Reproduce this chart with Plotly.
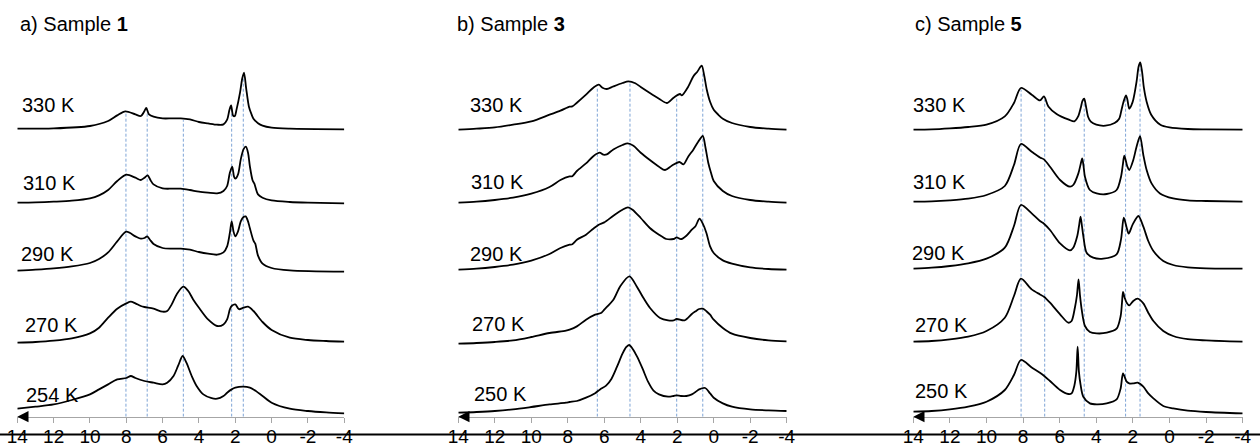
import numpy as np
import plotly.graph_objects as go

# ---------------- data ----------------
ticks = [14, 12, 10, 8, 6, 4, 2, 0, -2, -4]
tick_labels = ["14", "12", "10", "8", "6", "4", "2", "0", "-2", "-4"]

panel_titles = ["a) Sample <b>1</b>", "b) Sample <b>3</b>", "c) Sample <b>5</b>"]
temps_a = ["330 K", "310 K", "290 K", "270 K", "254 K"]
temps_b = ["330 K", "310 K", "290 K", "270 K", "250 K"]
temps_c = ["330 K", "310 K", "290 K", "270 K", "250 K"]

# vertical stacking offsets of each spectrum (a.u.)
offsets_a = [288, 214, 146, 74, 8]
offsets_b = [287, 214, 147, 73, 4]
offsets_c = [287, 215, 148, 75, 5]

# (ppm, intensity) pairs, sample 1
a330 = [(14,0),(12,0.3),(10,2.7),(9,7.7),(8.5,13.3),(8.05,17.3),(7.5,14.3),(7.2,12.7),(7.0,17.7),(6.9,20.7),(6.75,14.3),(6.5,12),(6,10.3),(5.5,10.3),(5,10.3),(4.5,9.3),(4,6.7),(3.5,5.3),(3,4),(2.65,4.3),(2.45,9),(2.32,19),(2.23,23.3),(2.12,13),(2.03,12.6),(1.93,19.3),(1.74,36),(1.62,50),(1.52,56),(1.4,40),(1.25,22),(1.1,14),(1.0,10),(0.75,5.5),(0.5,3),(0,1),(-1,0),(-4,-0.7)]
a310 = [(14,0),(13,0.3),(12,1),(11,2),(10,4.3),(9.5,7.3),(9,12.7),(8.5,21.7),(8,28),(7.5,25),(7.2,22.7),(7.0,25),(6.83,27.3),(6.65,22),(6.5,18.3),(6,14.3),(5.5,14),(5,14),(4.5,12.7),(4,11),(3.5,10),(3,9.3),(2.65,11.7),(2.45,16.7),(2.3,30),(2.17,36),(2.07,26),(2.0,24),(1.85,28.3),(1.7,43.3),(1.55,53.3),(1.42,56),(1.3,50),(1.2,36.7),(1.05,22.5),(0.95,19),(0.75,8.3),(0.5,5),(0,2.3),(-1,0.7),(-2,0),(-4,-0.7)]
a290 = [(14,0),(13,1),(12,2.3),(11,4.3),(10,7.7),(9.5,11.7),(9,18.3),(8.5,29.3),(8,39),(7.5,34.3),(7.2,32),(7.0,32.7),(6.85,34.3),(6.7,31),(6.5,26.7),(6,22.7),(5.5,22),(5,22),(4.5,21),(4,18.7),(3.5,17),(3,16),(2.65,18.3),(2.45,24.3),(2.3,37.7),(2.2,49.3),(2.1,39.3),(2.0,34.3),(1.85,39.3),(1.7,49.3),(1.55,53.7),(1.43,54.3),(1.3,49.3),(1.2,42.7),(1.0,30),(0.9,27),(0.75,15),(0.5,7),(0,2.7),(-1,0.3),(-4,-1)]
a270 = [(14,0),(13,0.7),(12,2),(11,4.3),(10,9.3),(9.5,15),(9,25),(8.5,34),(8,39.3),(7.75,41),(7.5,39.3),(7.2,36.7),(7.0,35.7),(6.5,34),(6,31),(5.75,31.7),(5.5,38.3),(5.23,48.3),(4.86,56),(4.59,51.7),(4.32,43.3),(4.0,35),(3.5,23.3),(3.0,16.7),(2.65,18.3),(2.45,23.3),(2.3,33.3),(2.2,36.7),(2.0,38.3),(1.8,33.5),(1.55,35),(1.3,36),(1.0,31.7),(0.5,20.7),(0,12.7),(-1,5),(-2,2.7),(-3,1.7),(-4,1)]
a254 = [(14,0),(13,2),(12,4.3),(11,8.7),(10,14.3),(9.5,19.3),(9,24.3),(8.5,29.3),(8,30.7),(7.75,32.7),(7.5,30.7),(7.0,27.7),(6.5,26),(6,24.3),(5.75,26),(5.4,32.7),(5.14,43.3),(4.9,52.7),(4.69,46),(4.4,32.7),(4.13,22.7),(3.76,14.3),(3.3,10.5),(3,10),(2.65,12.7),(2.45,16),(2.2,19.3),(2,21),(1.55,22),(1.2,21),(1.0,19.3),(0.5,12.7),(0,6),(-1,0),(-2,-2.3),(-3,-3.7),(-4,-4.7)]

# sample 3
b330 = [(14,0),(13,1),(12,2.3),(11,5),(10,8.3),(9,15),(8.4,19),(7.9,23),(7.75,23.3),(7.5,27),(7,35),(6.6,42),(6.3,45),(6.1,42),(5.86,40.7),(5.5,43.3),(5,46.7),(4.68,48.3),(4.3,46.5),(4,42.7),(3.5,36.7),(3,31),(2.57,26.7),(2.2,32),(1.85,35.7),(1.75,34.3),(1.39,43.3),(1.12,53.3),(0.9,58),(0.66,64),(0.52,54),(0.38,40),(0.2,28),(0,20),(-0.25,15),(-0.5,11),(-1,6.7),(-2,2.7),(-3,1),(-4,0)]
b310 = [(14,0),(13,1),(12,2.7),(11,5),(10,9),(9,15.7),(8.4,22.7),(7.9,26.3),(7.75,26.5),(7.5,31.7),(7,39.3),(6.6,46.5),(6.25,50),(6.05,48),(5.86,48.3),(5.5,53.3),(5,57.7),(4.72,59.3),(4.4,57),(4,50),(3.5,42.7),(3,36),(2.67,32.7),(2.3,37),(1.88,40.7),(1.66,38.3),(1.4,46),(1.11,53.3),(0.85,61),(0.6,66.7),(0.45,55),(0.3,40),(0.15,30),(0,21.7),(-0.5,11.7),(-1,6.7),(-2,2.7),(-3,1),(-4,0)]
b290 = [(14,0),(13,1),(12,2.7),(11,5),(10,9),(9,15.7),(8.4,21.7),(7.9,25),(7.75,25.5),(7.5,30),(7,35),(6.6,41),(6.3,45),(6.0,47.3),(5.5,54),(5,60),(4.7,62.3),(4.45,60),(4,51.7),(3.5,41.7),(3,35),(2.6,30.7),(2.2,30.7),(2.03,32.3),(1.8,30.5),(1.5,34),(1.2,40),(1.0,43.5),(0.78,51),(0.6,46),(0.4,36.7),(0.2,23.3),(0,16.7),(-0.5,9.3),(-1,6),(-2,2.3),(-3,0.7),(-4,0)]
b270 = [(14,0),(13,0.7),(12,1.7),(11,3.3),(10,6.7),(9,10.7),(8.1,13),(7.9,14),(7.5,17.3),(7,24),(6.5,29),(6.15,31),(6.0,34),(5.5,44),(5.13,57.3),(4.62,67.3),(4.22,57.3),(3.85,45.7),(3.49,35.7),(2.94,25.7),(2.5,23.3),(2.2,23.3),(2.03,24.7),(1.6,23.3),(1.2,29.7),(1.0,32.3),(0.8,34.7),(0.6,35),(0.4,32.5),(0.2,29),(0,24),(-0.5,15.7),(-1,10),(-2,5.7),(-3,3.3),(-4,2.3)]
b250 = [(14,0),(13,0.7),(12,1.7),(11,3.3),(10,5.7),(9,8.3),(8.1,10),(7.9,10.7),(7.5,11.7),(7,15),(6.5,19.5),(6.23,23.3),(5.9,27),(5.6,34),(5.3,46),(5.0,59),(4.8,65.5),(4.64,67.7),(4.45,64),(4.2,56),(3.9,44),(3.6,31),(3.3,22),(3,18.3),(2.5,16),(2.2,16.7),(2.03,17.3),(1.8,16.7),(1.5,16.7),(1.2,18.3),(1.0,20.7),(0.8,23.3),(0.47,24.7),(0.2,19.3),(0,15),(-0.5,9.3),(-1,6),(-2,3.3),(-3,2.3),(-4,1.7)]

# sample 5
c330 = [(14,0),(13,0.3),(12,1.3),(11,2.7),(10,5),(9,13.3),(8.5,26.7),(8.12,41.7),(7.53,35),(7.08,29.3),(6.86,33.3),(6.62,23.3),(6.17,15.7),(5.5,10),(5.2,8.3),(5.0,13),(4.85,22),(4.75,29),(4.66,31),(4.57,24),(4.45,13),(4.3,8),(4,5),(3.5,4),(3,6.7),(2.75,11),(2.62,20),(2.53,26.7),(2.38,34.3),(2.3,30),(2.2,21),(2.07,25),(1.98,30),(1.8,48),(1.69,63),(1.6,67.3),(1.5,58),(1.4,42),(1.25,28),(1.0,15),(0.5,5),(0,2.3),(-1,0.7),(-2,0.3),(-4,0)]
c310 = [(14,0),(13,0.3),(12,1.3),(11,3),(10,6.7),(9,15.7),(8.5,36.7),(8.12,57.7),(7.53,50),(7.08,44.3),(6.86,42.3),(6.53,35),(5.98,21.7),(5.44,15),(5.26,16.7),(4.98,28.3),(4.85,38),(4.77,43.3),(4.7,36),(4.62,25),(4.35,11.7),(3.98,8.3),(3.43,7.7),(2.89,11.7),(2.65,25),(2.55,37),(2.47,46),(2.3,35),(2.2,31.7),(1.98,41.7),(1.8,55),(1.61,65.5),(1.43,46.7),(1.25,31.7),(0.98,18.3),(0.52,8.3),(-0.2,3.3),(-1,1.3),(-2,0.7),(-4,0)]
c290 = [(14,0),(13,1),(12,2.7),(11,5.3),(10,10),(9,21),(8.5,42.7),(8.12,63.7),(7.53,55.3),(7.08,47.7),(6.86,45),(6.53,38.7),(5.98,25.3),(5.44,18.3),(5.26,21),(5.04,32.7),(4.95,42),(4.86,52),(4.78,42),(4.71,32.7),(4.53,16),(4.17,11),(3.62,10),(2.89,14.3),(2.65,29.3),(2.5,51),(2.34,41),(2.23,35),(2.01,44.3),(1.7,52.7),(1.43,42),(1.16,27.7),(0.88,17.7),(0.34,7.7),(-0.2,3.7),(-1,1.3),(-2,0.3),(-4,0)]
c270 = [(14,0),(13,0.7),(12,2.3),(11,5),(10,10.7),(9,24),(8.5,45.7),(8.12,63),(7.53,52.3),(7.08,47.3),(6.86,45),(6.53,39),(5.98,27.3),(5.53,19),(5.35,20.7),(5.17,34),(5.06,46),(4.97,62.3),(4.89,46),(4.8,32.3),(4.62,15.7),(4.35,9.7),(3.98,8.3),(3.43,9),(2.89,13),(2.67,25.7),(2.6,38),(2.54,49.7),(2.45,44),(2.34,39),(2.2,36.3),(1.98,40.7),(1.74,43),(1.43,38.3),(1.16,29),(0.88,20.7),(0.34,10.7),(-0.2,5.7),(-1,2.5),(-2,1.3),(-4,0)]
c250 = [(14,0),(13,0.7),(12,2.3),(11,5),(10,10),(9,21.7),(8.5,36.7),(8.12,51.7),(7.53,44.3),(7.08,39),(6.86,36),(6.53,30.7),(5.98,21.7),(5.53,17.7),(5.35,18.3),(5.2,26),(5.09,40),(5.02,65),(4.95,40),(4.86,27),(4.71,15),(4.35,8.3),(3.98,7.3),(3.43,8.3),(2.89,12.3),(2.67,23.3),(2.54,38.3),(2.34,30),(2.2,28.3),(1.98,28.3),(1.74,29),(1.43,25),(1.16,18.3),(0.88,13.3),(0.34,5.7),(-0.2,3.3),(-1,1),(-2,-0.3),(-4,-1.7)]

# guide lines (ppm)
dash_a = [8.02, 6.85, 4.86, 2.2, 1.56]
dash_b = [6.38, 4.59, 2.03, 0.6]
dash_c = [8.11, 6.82, 4.66, 2.4, 1.61]

# ---------------- figure ----------------
W, H = 1260, 448
AXIS_Y = 416.7            # pixel row of the ppm axis
FONT = "Liberation Sans, Arial, Helvetica, sans-serif"
DASH_COLOR = "#7ea4d6"

panels = [
    dict(spectra=[a330, a310, a290, a270, a254], offs=offsets_a, temps=temps_a,
         dash=dash_a, x0=17.3, x1=344.3, title_x=18,
         lab=[(20, 105), (21, 183), (19, 254), (23, 325), (24, 395)]),
    dict(spectra=[b330, b310, b290, b270, b250], offs=offsets_b, temps=temps_b,
         dash=dash_b, x0=458.3, x1=786.7, title_x=455,
         lab=[(468, 105), (469, 182), (468, 254), (470, 324), (472, 394)]),
    dict(spectra=[c330, c310, c290, c270, c250], offs=offsets_c, temps=temps_c,
         dash=dash_c, x0=913.3, x1=1242.7, title_x=913,
         lab=[(911, 105), (911, 182), (910, 253), (913, 325), (913, 391)]),
]

fig = go.Figure()
annotations = []
layout_axes = {}

def paper(px, py):
    return px / W, 1 - py / H

for i, p in enumerate(panels):
    n = "" if i == 0 else str(i + 1)
    xa, ya = "x" + n, "y" + n

    # dashed guide lines, from the axis up to the top spectrum
    top = p["spectra"][0]
    tx = np.array([t[0] for t in top])[::-1]
    ty = np.array([t[1] for t in top])[::-1]
    for d in p["dash"]:
        h = p["offs"][0] + float(np.interp(d, tx, ty)) - 1.5
        fig.add_trace(go.Scatter(x=[d, d], y=[0, h], mode="lines", xaxis=xa, yaxis=ya,
                                 line=dict(color=DASH_COLOR, width=1, dash="3px,2px"),
                                 hoverinfo="skip"))

    # spectra
    for spec, off, temp in zip(p["spectra"], p["offs"], p["temps"]):
        fig.add_trace(go.Scatter(x=[t[0] for t in spec], y=[off + t[1] for t in spec],
                                 mode="lines", xaxis=xa, yaxis=ya, name=temp,
                                 line=dict(color="black", width=1.8, shape="spline", smoothing=0.8)))

    layout_axes["xaxis" + n] = dict(
        domain=[p["x0"] / W, p["x1"] / W], range=[14, -4], anchor=ya,
        showline=True, linecolor="#a6a6a6", linewidth=1,
        ticks="outside", ticklen=5, tickcolor="#a6a6a6", tickwidth=1,
        tickvals=ticks, ticktext=tick_labels, ticklabelstandoff=-3,
        tickfont=dict(family=FONT, size=19, color="black"),
        showgrid=False, zeroline=False, fixedrange=True, automargin=False)
    layout_axes["yaxis" + n] = dict(
        domain=[(H - AXIS_Y) / H, 1], range=[0, AXIS_Y], anchor=xa,
        visible=False, fixedrange=True, automargin=False)

    # left arrow head at the start of the axis
    annotations.append(dict(x=14, y=0, xref=xa, yref=ya, ax=11, ay=0, text="",
                            showarrow=True, arrowhead=2, arrowsize=1.6, arrowwidth=1.4,
                            arrowcolor="black", standoff=0))

    # panel title
    tx_, ty_ = paper(p["title_x"], 24)
    annotations.append(dict(x=tx_, y=ty_, xref="paper", yref="paper", xanchor="left",
                            yanchor="middle", text=panel_titles[i], showarrow=False,
                            font=dict(family=FONT, size=20, color="black")))
    # temperature labels
    for (lx, ly), temp in zip(p["lab"], p["temps"]):
        ax_, ay_ = paper(lx, ly)
        annotations.append(dict(x=ax_, y=ay_, xref="paper", yref="paper", xanchor="left",
                                yanchor="middle", text=temp, showarrow=False,
                                font=dict(family=FONT, size=20, color="black")))

fig.update_layout(
    width=W, height=H, margin=dict(l=0, r=0, t=0, b=0, autoexpand=False),
    paper_bgcolor="white", plot_bgcolor="white", showlegend=False,
    annotations=annotations,
    shapes=[dict(type="line", xref="paper", yref="paper", x0=0, x1=1,
                 y0=1 - 434.5 / H, y1=1 - 434.5 / H,
                 line=dict(color="black", width=2), layer="above")],
    **layout_axes)

fig.write_html("out.html", config={"displayModeBar": False},
               post_script="document.body.style.margin='0';document.body.style.padding='0';"
                           "document.documentElement.style.overflow='hidden';")
